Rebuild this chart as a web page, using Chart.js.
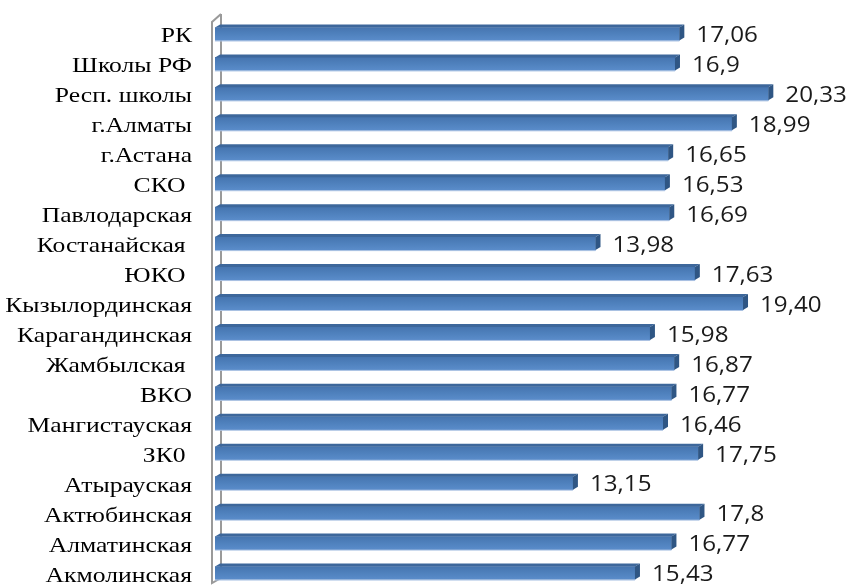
<!DOCTYPE html>
<html>
<head>
<meta charset="utf-8">
<script src="https://cdn.jsdelivr.net/npm/chart.js@4"></script>
<style>
  html, body { margin: 0; padding: 0; background: #fff; }
  #wrap { width: 847px; height: 588px; }
</style>
</head>
<body>
<div id="wrap"><canvas id="chart"></canvas></div>
<script>
// регионы и средние значения
const regions = [
    'РК', 'Школы РФ', 'Респ. школы', 'г.Алматы', 'г.Астана', 'СКО ', 'Павлодарская',
    'Костанайская ', 'ЮКО ', 'Кызылординская', 'Карагандинская', 'Жамбылская ', 'ВКО',
    'Мангистауская', 'ЗК0 ', 'Атырауская', 'Актюбинская', 'Алматинская', 'Акмолинская'
];
const values = [
    17.06, 16.9, 20.33, 18.99, 16.65, 16.53, 16.69,
    13.98, 17.63, 19.40, 15.98, 16.87, 16.77,
    16.46, 17.75, 13.15, 17.8, 16.77, 15.43
];
const valueLabels = [
    '17,06', '16,9', '20,33', '18,99', '16,65', '16,53', '16,69',
    '13,98', '17,63', '19,40', '15,98', '16,87', '16,77',
    '16,46', '17,75', '13,15', '17,8', '16,77', '15,43'
];

const DX = 5, DY = -3; // глубина объёма

// стенка слева
const wallPlugin = {
    id: 'wall',
    beforeDatasetsDraw(chart) {
        const c = chart.ctx;
        const left = chart.chartArea.left;
        const x0 = left - 3, x1 = left + 6;
        c.save();
        c.strokeStyle = '#9a9a9a';
        c.lineWidth = 2;
        c.beginPath();
        c.moveTo(x1, 14); c.lineTo(x0, 22); c.lineTo(x0, 583); c.lineTo(x1, 578);
        c.moveTo(x1, 14); c.lineTo(x1, 578);
        c.stroke();
        c.restore();
    }
};

// текст, чуть растянутый по горизонтали
function wideText(c, text, x, y, sx, align) {
    c.save();
    c.translate(x, y);
    c.scale(sx, 1);
    c.textAlign = align;
    c.fillText(text, 0, 0);
    c.restore();
}

// объём столбиков, подписи значений и категорий
const bar3dPlugin = {
    id: 'bar3d',
    afterDatasetsDraw(chart) {
        const c = chart.ctx;
        const meta = chart.getDatasetMeta(0);
        const yScale = chart.scales.y;
        c.save();
        meta.data.forEach((bar, i) => {
            const p = bar.getProps(['x', 'y', 'base', 'height'], true);
            const top = p.y - p.height / 2, bottom = p.y + p.height / 2;
            // верхняя грань
            c.fillStyle = '#3d679b';
            c.beginPath();
            c.moveTo(p.base, top); c.lineTo(p.base + DX, top + DY);
            c.lineTo(p.x + DX, top + DY); c.lineTo(p.x, top);
            c.closePath(); c.fill();
            // торец
            c.fillStyle = '#2f5684';
            c.beginPath();
            c.moveTo(p.x, top); c.lineTo(p.x + DX, top + DY);
            c.lineTo(p.x + DX, bottom + DY); c.lineTo(p.x, bottom);
            c.closePath(); c.fill();
            // светлая кромка снизу
            c.fillStyle = '#a9c1e2';
            c.fillRect(p.base, bottom, p.x - p.base, 1);

            c.fillStyle = '#1a1a1a';
            c.font = '22px "Open Sans", sans-serif';
            c.textBaseline = 'middle';
            wideText(c, valueLabels[i], p.x + DX + 12, p.y + 2, 1.1, 'left');
        });

        c.fillStyle = '#000';
        c.font = '21px "Liberation Serif", "Times New Roman", serif';
        c.textBaseline = 'middle';
        chart.data.labels.forEach((label, i) => {
            const y = yScale.getPixelForValue(i);
            wideText(c, label, chart.chartArea.left - 23, y + 3, 1.22, 'right');
        });
        c.restore();
    }
};

const ctx = document.getElementById('chart').getContext('2d');

new Chart(ctx, {
    type: 'bar',
    data: {
        labels: regions,
        datasets: [{
            data: values,
            barThickness: 13,
            borderWidth: 0,
            backgroundColor(context) {
                const y = context.chart.scales.y;
                if (!y || context.dataIndex === undefined) return '#4f81bd';
                const cy = y.getPixelForValue(context.dataIndex);
                if (!Number.isFinite(cy)) return '#4f81bd';
                const g = context.chart.ctx.createLinearGradient(0, cy - 6.5, 0, cy + 6.5);
                g.addColorStop(0, '#4675b0');
                g.addColorStop(0.5, '#4f81bd');
                g.addColorStop(1, '#5a8cca');
                return g;
            }
        }]
    },
    options: {
        indexAxis: 'y',
        responsive: true,
        maintainAspectRatio: false,
        animation: false,
        layout: { padding: { top: 19, right: 6, bottom: 0, left: 0 } },
        plugins: {
            legend: { display: false },
            tooltip: { enabled: false }
        },
        scales: {
            x: {
                display: false,
                min: 0,
                max: 23
            },
            y: {
                grid: { display: false, drawTicks: false },
                border: { display: false },
                ticks: { display: false },
                afterFit(axis) {
                    axis.width = 215;
                    axis.paddingTop = 0;
                    axis.paddingBottom = 0;
                }
            }
        }
    },
    plugins: [wallPlugin, bar3dPlugin]
});
</script>
</body>
</html>
